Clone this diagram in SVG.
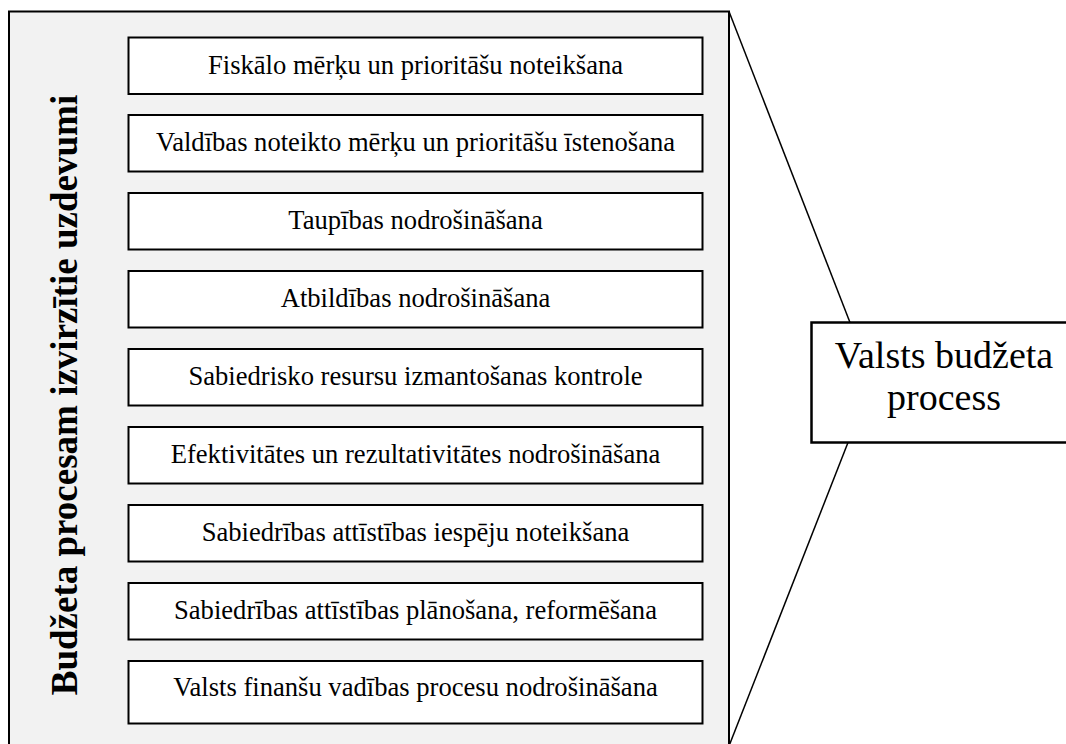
<svg xmlns="http://www.w3.org/2000/svg" width="1066" height="744" viewBox="0 0 1066 744">
  <style>
    .panel { fill: #f2f2f2; stroke: #000; stroke-width: 2; }
    .task { fill: #fff; stroke: #000; stroke-width: 2; }
    .task-text { font-family: "Liberation Serif", "DejaVu Serif", serif; font-size: 26.6px; fill: #000; text-anchor: middle; }
    .side-text { font-family: "Liberation Serif", "DejaVu Serif", serif; font-size: 37px; font-weight: bold; fill: #000; text-anchor: middle; }
    .main { fill: #fff; stroke: #000; stroke-width: 2.5; }
    .main-text { font-family: "Liberation Serif", "DejaVu Serif", serif; font-size: 38px; fill: #000; text-anchor: middle; }
    .link { stroke: #000; stroke-width: 1.5; fill: none; }
  </style>

  <!-- container panel -->
  <g id="panel">
    <rect class="panel" x="9" y="11.5" width="720" height="740"/>
    <text class="side-text" transform="translate(77,395) rotate(-90)">Budžeta procesam izvirzītie uzdevumi</text>
  </g>

  <!-- task boxes -->
  <g id="task1"><rect class="task" x="128.5" y="37.5" width="574" height="56.5"/><text class="task-text" x="415.5" y="73.5">Fiskālo mērķu un prioritāšu noteikšana</text></g>
  <g id="task2"><rect class="task" x="128.5" y="115" width="574" height="56.5"/><text class="task-text" x="415.5" y="151">Valdības noteikto mērķu un prioritāšu īstenošana</text></g>
  <g id="task3"><rect class="task" x="128.5" y="193" width="574" height="56.5"/><text class="task-text" x="415.5" y="229">Taupības nodrošināšana</text></g>
  <g id="task4"><rect class="task" x="128.5" y="271" width="574" height="56.5"/><text class="task-text" x="415.5" y="307">Atbildības nodrošināšana</text></g>
  <g id="task5"><rect class="task" x="128.5" y="349" width="574" height="56.5"/><text class="task-text" x="415.5" y="385">Sabiedrisko resursu izmantošanas kontrole</text></g>
  <g id="task6"><rect class="task" x="128.5" y="427" width="574" height="56.5"/><text class="task-text" x="415.5" y="463">Efektivitātes un rezultativitātes nodrošināšana</text></g>
  <g id="task7"><rect class="task" x="128.5" y="505" width="574" height="56.5"/><text class="task-text" x="415.5" y="541">Sabiedrības attīstības iespēju noteikšana</text></g>
  <g id="task8"><rect class="task" x="128.5" y="583" width="574" height="56.5"/><text class="task-text" x="415.5" y="619">Sabiedrības attīstības plānošana, reformēšana</text></g>
  <g id="task9"><rect class="task" x="128.5" y="661" width="574" height="62.5"/><text class="task-text" x="415.5" y="696">Valsts finanšu vadības procesu nodrošināšana</text></g>

  <!-- connectors -->
  <g id="connectors">
    <line class="link" x1="729" y1="11.5" x2="850" y2="322.5"/>
    <line class="link" x1="848" y1="442.5" x2="729" y2="746"/>
  </g>

  <!-- main process box -->
  <g id="budget-process">
    <rect class="main" x="811.5" y="322.5" width="260" height="120"/>
    <text class="main-text" x="944" y="368">Valsts budžeta</text>
    <text class="main-text" x="944" y="410">process</text>
  </g>
</svg>
